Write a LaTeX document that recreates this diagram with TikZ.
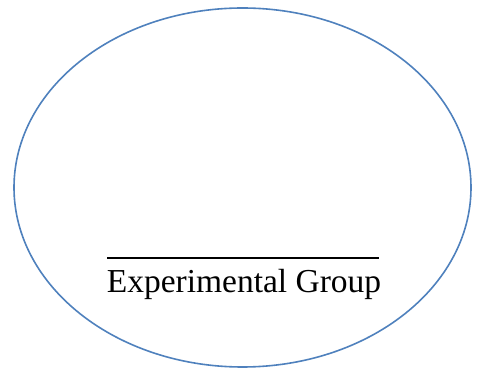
\documentclass[tikz,border=0pt]{standalone}
\usepackage{fontspec}
\setmainfont{Liberation Serif}
\usepackage{tikz}
\usetikzlibrary{positioning,shapes.geometric}
\definecolor{ink}{HTML}{000000}
\definecolor{rim}{HTML}{4F81BD}
\tikzset{
  grp/.style={ellipse, draw=rim, line width=1.6pt, fill=white,
    minimum width=457pt, minimum height=359pt, inner sep=0pt},
  grplab/.style={font=\fontsize{33.5}{36}\selectfont, text=ink, inner sep=0pt, anchor=base},
  blank/.style={line width=1.6pt, draw=ink},
}
\begin{document}
\begin{tikzpicture}[x=1pt,y=-1pt]
  \useasboundingbox (0,0) rectangle (480,371);
  \node[grp] (group) at (242.5,187.5) {};
  \node[grplab] (name) at (244,293) {Experimental Group};
  \coordinate (b1) at (107,258);
  \coordinate (b2) at (379,258);
  \draw[blank] (b1) -- (b2);
\end{tikzpicture}
\end{document}
